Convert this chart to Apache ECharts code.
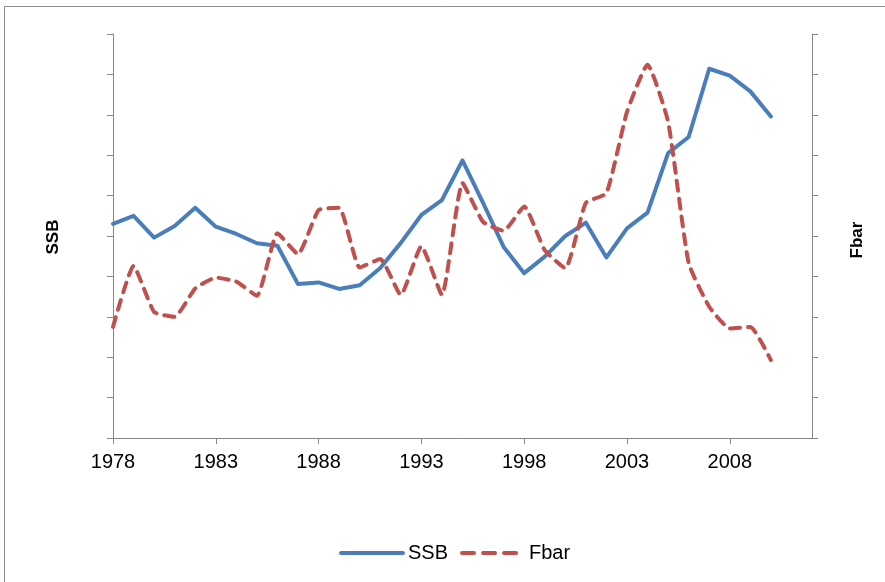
<!DOCTYPE html>
<html>
<head>
<meta charset="utf-8">
<script src="https://cdn.jsdelivr.net/npm/echarts@6/dist/echarts.min.js"></script>
<style>html,body{margin:0;padding:0;background:#fff;}#c{width:885px;height:582px;}</style>
</head>
<body>
<div id="c"></div>
<script>
var years = [];
for (var y = 1978; y <= 2012; y++) years.push(String(y));
var ssb = [530, 550, 496, 525, 570, 523, 505, 482, 476, 381, 385, 369, 378, 421, 483, 552, 589, 687, 582, 473, 408, 449, 500, 533, 447, 519, 558, 705, 745, 914, 897, 858, 796, null, null];
var fbar = [0.275, 0.426, 0.312, 0.300, 0.370, 0.397, 0.387, 0.352, 0.507, 0.455, 0.564, 0.570, 0.422, 0.443, 0.354, 0.475, 0.354, 0.631, 0.535, 0.513, 0.573, 0.465, 0.420, 0.582, 0.606, 0.807, 0.924, 0.783, 0.433, 0.325, 0.271, 0.275, 0.193, null, null];
var axisColor = '#868686';
var font = 'Liberation Sans';
var chart = echarts.init(document.getElementById('c'));
chart.setOption({
  animation: false,
  backgroundColor: '#fff',
  grid: {left: 113, right: 73, top: 34, bottom: 144},
  legend: {
    left: 334, top: 538, itemWidth: 62, itemHeight: 4, itemGap: 12,
    lineStyle: {width: 4, cap: 'round'},
    textStyle: {fontFamily: font, fontSize: 20, color: '#000'},
    data: [{name: 'SSB'}, {name: 'Fbar', lineStyle: {type: [12, 9], width: 4, cap: 'round'}}]
  },
  xAxis: {
    type: 'category', data: years, boundaryGap: false,
    axisLine: {lineStyle: {color: axisColor, width: 1}},
    axisTick: {interval: 4, length: 6, lineStyle: {color: axisColor}},
    axisLabel: {interval: 4, color: '#000', fontFamily: font, fontSize: 20, margin: 14},
    splitLine: {show: false}
  },
  yAxis: [{
    type: 'value', min: 0, max: 1000, interval: 100, position: 'left',
    axisLine: {show: true, lineStyle: {color: axisColor, width: 1}},
    axisTick: {show: true, length: 6, lineStyle: {color: axisColor}},
    axisLabel: {show: false}, splitLine: {show: false}
  }, {
    type: 'value', min: 0, max: 1, interval: 0.1, position: 'right',
    axisLine: {show: true, lineStyle: {color: axisColor, width: 1}},
    axisTick: {show: true, length: 6, lineStyle: {color: axisColor}},
    axisLabel: {show: false}, splitLine: {show: false}
  }],
  graphic: [
    {type: 'rect', shape: {x: 4.5, y: 6.5, width: 1000, height: 1000}, style: {fill: 'none', stroke: '#8c8c8c', lineWidth: 1}, z: -1},
    {type: 'text', x: 53, y: 237, rotation: Math.PI / 2, style: {text: 'SSB', font: 'bold 17px "Liberation Sans"', fill: '#000', textAlign: 'center', textVerticalAlign: 'middle'}},
    {type: 'text', x: 857, y: 240, rotation: Math.PI / 2, style: {text: 'Fbar', font: 'bold 17px "Liberation Sans"', fill: '#000', textAlign: 'center', textVerticalAlign: 'middle'}}
  ],
  series: [{
    name: 'SSB', type: 'line', data: ssb, yAxisIndex: 0, symbol: 'none',
    lineStyle: {color: '#4A7EBB', width: 4, cap: 'round', join: 'round'},
    itemStyle: {color: '#4A7EBB'}
  }, {
    name: 'Fbar', type: 'line', data: fbar, yAxisIndex: 1, symbol: 'none', smooth: 0.15,
    lineStyle: {color: '#C0504D', width: 4, type: [10, 8], cap: 'round', join: 'round'},
    itemStyle: {color: '#C0504D'}
  }]
});
</script>
</body>
</html>
